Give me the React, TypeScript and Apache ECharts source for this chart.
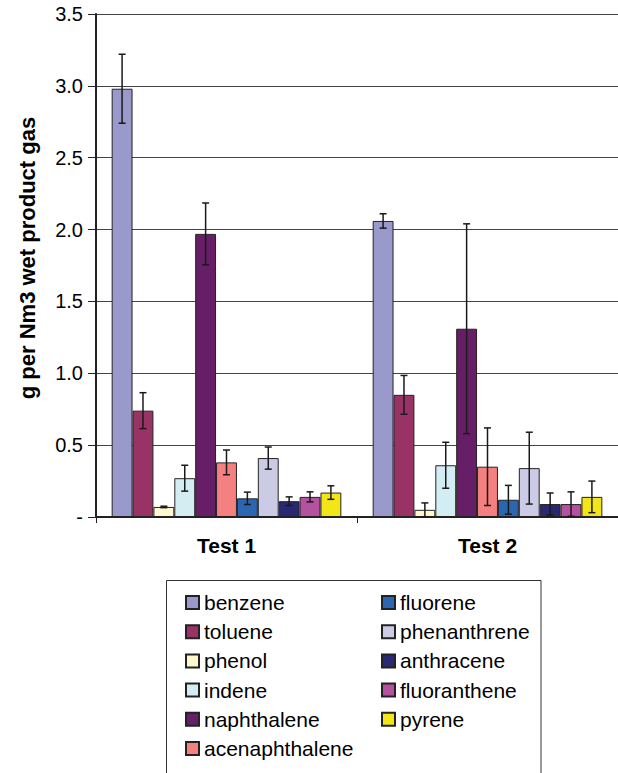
import React, { useEffect, useRef } from "react";
import * as echarts from "echarts";

const categories = ["Test 1", "Test 2"];
const compounds = [
  "benzene", "toluene", "phenol", "indene", "naphthalene", "acenaphthalene",
  "fluorene", "phenanthrene", "anthracene", "fluoranthene", "pyrene",
];
const colors = [
  "#9999CC", "#993366", "#FEF9CC", "#D3EDF3", "#661F66", "#F58080",
  "#2B66B3", "#CCCBE6", "#282873", "#B552A0", "#F2E619",
];
const test1Values = [2.98, 0.74, 0.07, 0.27, 1.97, 0.38, 0.13, 0.41, 0.11, 0.14, 0.17];
const test1Errors = [0.24, 0.125, 0.005, 0.09, 0.215, 0.086, 0.043, 0.077, 0.03, 0.035, 0.047];
const test2Values = [2.06, 0.85, 0.05, 0.36, 1.31, 0.35, 0.12, 0.34, 0.09, 0.09, 0.14];
const test2Errors = [0.05, 0.135, 0.048, 0.16, 0.73, 0.27, 0.1, 0.25, 0.077, 0.085, 0.11];
const yTicks = [0, 0.5, 1.0, 1.5, 2.0, 2.5, 3.0, 3.5];

const FONT = "'Liberation Sans', Arial, sans-serif";
const CAT_GAP = 0.12;

export default function App() {
  const ref = useRef<HTMLDivElement>(null);
  useEffect(() => {
    if (!ref.current) return;
    const chart = echarts.init(ref.current, null, { renderer: "svg" });
    const values = [test1Values, test2Values];
    const errors = [test1Errors, test2Errors];
    const n = compounds.length;

    const barSeries = compounds.map((name, s) => ({
      type: "bar",
      name,
      data: categories.map((_, c) => values[c][s]),
      barGap: "0%",
      barCategoryGap: CAT_GAP * 100 + "%",
      itemStyle: { color: colors[s], borderColor: "#222", borderWidth: 1 },
    }));

    const errData: number[][] = [];
    categories.forEach((_, c) => {
      compounds.forEach((__, s) => {
        errData.push([c, s, values[c][s] - errors[c][s], values[c][s] + errors[c][s]]);
      });
    });

    const errSeries = {
      type: "custom",
      name: "error",
      z: 5,
      silent: true,
      encode: { x: 0, y: [2, 3] },
      data: errData,
      renderItem: (params: any, api: any) => {
        const c = api.value(0);
        const s = api.value(1);
        const lo = api.value(2);
        const hi = api.value(3);
        const band = api.size([1, 0])[0];
        const used = band * (1 - CAT_GAP);
        const bw = used / n;
        const cx = api.coord([c, 0])[0] - used / 2 + (s + 0.5) * bw;
        const yHi = api.coord([c, hi])[1];
        const yLo = api.coord([c, lo])[1];
        const cap = 3.5;
        const st = { stroke: "#1a1a1a", lineWidth: 1.5 };
        return {
          type: "group",
          children: [
            { type: "line", shape: { x1: cx, y1: yHi, x2: cx, y2: yLo }, style: st },
            { type: "line", shape: { x1: cx - cap, y1: yHi, x2: cx + cap, y2: yHi }, style: st },
            { type: "line", shape: { x1: cx - cap, y1: yLo, x2: cx + cap, y2: yLo }, style: st },
          ],
        };
      },
    };

    const legendCommon = {
      orient: "vertical",
      top: 587,
      itemGap: 8.2,
      itemWidth: 13,
      itemHeight: 13,
      icon: "rect",
      textStyle: { fontSize: 21, color: "#000", fontFamily: FONT },
      selectedMode: false,
    };

    chart.setOption({
      animation: false,
      textStyle: { fontFamily: FONT },
      grid: { left: 96, top: 14, bottom: 256, right: -4, containLabel: false },
      legend: [
        { ...legendCommon, left: 180, data: compounds.slice(0, 6) },
        { ...legendCommon, left: 376, data: compounds.slice(6) },
      ],
      graphic: [
        {
          type: "rect",
          shape: { x: 166.5, y: 580.5, width: 374.5, height: 220 },
          style: { fill: "none", stroke: "#333", lineWidth: 1 },
          z: -1,
        },
        {
          type: "text",
          x: 27,
          y: 258,
          rotation: Math.PI / 2,
          style: {
            text: "g per Nm3 wet product gas",
            font: "bold 22px " + FONT,
            fill: "#000",
            textAlign: "center",
            textVerticalAlign: "middle",
          },
        },
      ],
      xAxis: {
        type: "category",
        data: categories,
        axisLine: { lineStyle: { color: "#222", width: 2 } },
        axisTick: { show: true, length: 6, lineStyle: { color: "#222", width: 1 } },
        axisLabel: { fontSize: 21, fontWeight: "bold", color: "#000", margin: 18, fontFamily: FONT },
        splitLine: { show: false },
      },
      yAxis: {
        type: "value",
        min: 0,
        max: 3.5,
        interval: 0.5,
        axisLine: { show: true, lineStyle: { color: "#222", width: 2 } },
        axisTick: { show: true, length: 8, inside: false, lineStyle: { color: "#222" } },
        axisLabel: {
          fontSize: 20,
          color: "#000",
          margin: 13,
          fontFamily: FONT,
          padding: [5, 0, 0, 0],
          formatter: (v: number) => {
            const t = yTicks.find((k) => Math.abs(k - v) < 1e-9);
            if (t === undefined) return "";
            return t === 0 ? "-" : t.toFixed(1);
          },
        },
        splitLine: { show: true, lineStyle: { color: "#444", width: 1 } },
      },
      series: [...barSeries, errSeries],
    } as any);
    return () => chart.dispose();
  }, []);
  return (
    <div
      ref={ref}
      style={{ position: "fixed", left: 0, top: 0, width: 618, height: 773, background: "#fff" }}
    />
  );
}
